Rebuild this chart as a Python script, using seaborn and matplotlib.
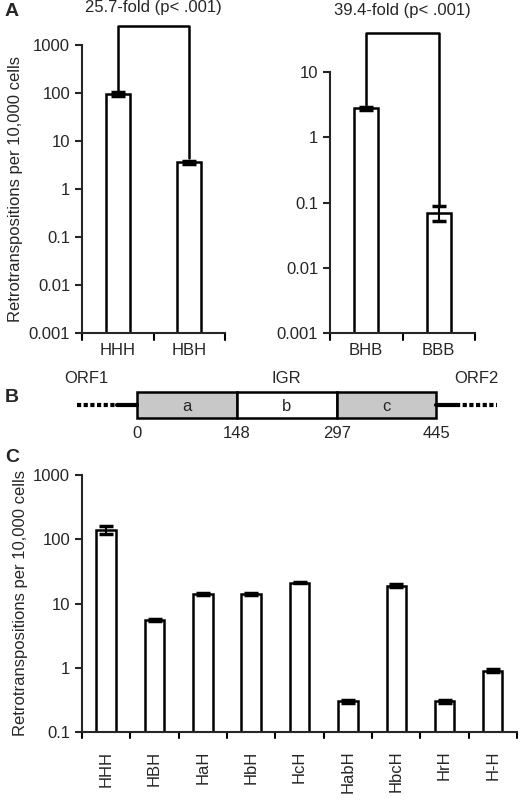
import matplotlib
matplotlib.use("Agg")
import matplotlib.pyplot as plt
import seaborn as sns
import pandas as pd
import numpy as np
from matplotlib.patches import Rectangle

sns.set_style("white")
plt.rcParams['font.family'] = ['Liberation Sans', 'DejaVu Sans']

a1_cats = ["HHH", "HBH"]; a1_vals = [95, 3.6]; a1_err = [10, 0.3]
a2_cats = ["BHB", "BBB"]; a2_vals = [2.8, 0.07]; a2_err = [0.15, 0.018]
c_cats = ["HHH", "HBH", "HaH", "HbH", "HcH", "HabH", "HbcH", "HrH", "H-H"]
c_vals = [140, 5.5, 14, 14, 21, 0.3, 19, 0.3, 0.9]
c_err = [18, 0.2, 0.6, 0.6, 0.5, 0.02, 0.8, 0.02, 0.05]
seg_labels = ["a", "b", "c"]
seg_bounds = [0, 148, 297, 445]

W, H = 521, 800
fig = plt.figure(figsize=(W/100, H/100), dpi=100)
def ax_px(x0, y0, x1, y1):
    return fig.add_axes([x0/W, 1-y1/H, (x1-x0)/W, (y1-y0)/H])

def bars(ax, cats, vals, errs, ylim, ticks, rot=0, width=0.4):
    ax.set_yscale('log')
    df = pd.DataFrame({"c": cats, "v": vals})
    sns.barplot(data=df, x="c", y="v", ax=ax, color="white", edgecolor="black",
                linewidth=1.8, width=width, errorbar=None)
    ax.errorbar(range(len(cats)), vals, yerr=errs, fmt='none', ecolor='black',
                elinewidth=1.5, capsize=5, capthick=2.5)
    ax.set_ylim(*ylim)
    ax.set_yticks(ticks)
    ax.set_yticklabels([("%g" % t) for t in ticks], fontsize=12)
    ax.minorticks_off()
    ax.set_xlabel(""); ax.set_ylabel("")
    for s in ["top", "right"]:
        ax.spines[s].set_visible(False)
    for s in ["left", "bottom"]:
        ax.spines[s].set_linewidth(1.5)
    ax.tick_params(axis='y', left=True, length=5, width=1.5, direction='out')
    ax.tick_params(axis='x', labelsize=12, rotation=rot, bottom=False)
    ax.set_xlim(-0.5, len(cats)-0.5)
    for b in np.arange(len(cats)+1) - 0.5:
        ax.plot([b, b], [0, -0.025], transform=ax.get_xaxis_transform(),
                color='black', lw=1.5, clip_on=False)

axA1 = ax_px(82, 45, 225, 333)
bars(axA1, a1_cats, a1_vals, a1_err, (0.001, 1000), [0.001, 0.01, 0.1, 1, 10, 100, 1000], width=0.33)
axA1.set_ylabel("Retrotranspositions per 10,000 cells", fontsize=12)
axA2 = ax_px(330, 72, 475, 333)
bars(axA2, a2_cats, a2_vals, a2_err, (0.001, 10), [0.001, 0.01, 0.1, 1, 10], width=0.33)

def bracket(ax, y0a, y0b, ytop, text):
    ax.plot([0, 0, 1, 1], [y0a, ytop, ytop, y0b], color='black', lw=1.8, clip_on=False)
    ax.text(0.5, ytop*1.7, text, ha='center', va='bottom', fontsize=12)
bracket(axA1, 110, 4.5, 2500, "25.7-fold (p< .001)")
bracket(axA2, 3.1, 0.09, 40, "39.4-fold (p< .001)")

fig.text(5/W, 1-12/H, "A", fontsize=14, fontweight='bold', va='center')
fig.text(5/W, 1-397/H, "B", fontsize=14, fontweight='bold', va='center')
fig.text(5/W, 1-458/H, "C", fontsize=14, fontweight='bold', va='center')

# Panel B
axB = ax_px(60, 372, 500, 437)
axB.set_xlim(-115, 540); axB.set_ylim(0, 1); axB.axis('off')
axB.plot([-90, -30], [0.5, 0.5], color='black', lw=3, ls=(0, (1, 0.6)))
axB.plot([-30, 0], [0.5, 0.5], color='black', lw=3)
axB.plot([445, 475], [0.5, 0.5], color='black', lw=3)
axB.plot([475, 535], [0.5, 0.5], color='black', lw=3, ls=(0, (1, 0.6)))
for i, lab in enumerate(seg_labels):
    x0, x1 = seg_bounds[i], seg_bounds[i+1]
    axB.add_patch(Rectangle((x0, 0.3), x1-x0, 0.4, facecolor='#c8c8c8' if lab != 'b' else 'white',
                            edgecolor='black', lw=1.8))
    axB.text((x0+x1)/2, 0.47, lab, ha='center', va='center', fontsize=12)
for b in seg_bounds:
    axB.text(b, 0.05, str(b), ha='center', va='center', fontsize=12)
axB.text(-75, 0.9, "ORF1", ha='center', va='center', fontsize=12)
axB.text(222, 0.9, "IGR", ha='center', va='center', fontsize=12)
axB.text(505, 0.9, "ORF2", ha='center', va='center', fontsize=12)

axC = ax_px(82, 475, 517, 732)
bars(axC, c_cats, c_vals, c_err, (0.1, 1000), [0.1, 1, 10, 100, 1000], rot=90)
axC.set_ylabel("Retrotranspositions per 10,000 cells", fontsize=12)
axC.tick_params(axis='x', pad=10)

fig.savefig("out.png", dpi=100)
